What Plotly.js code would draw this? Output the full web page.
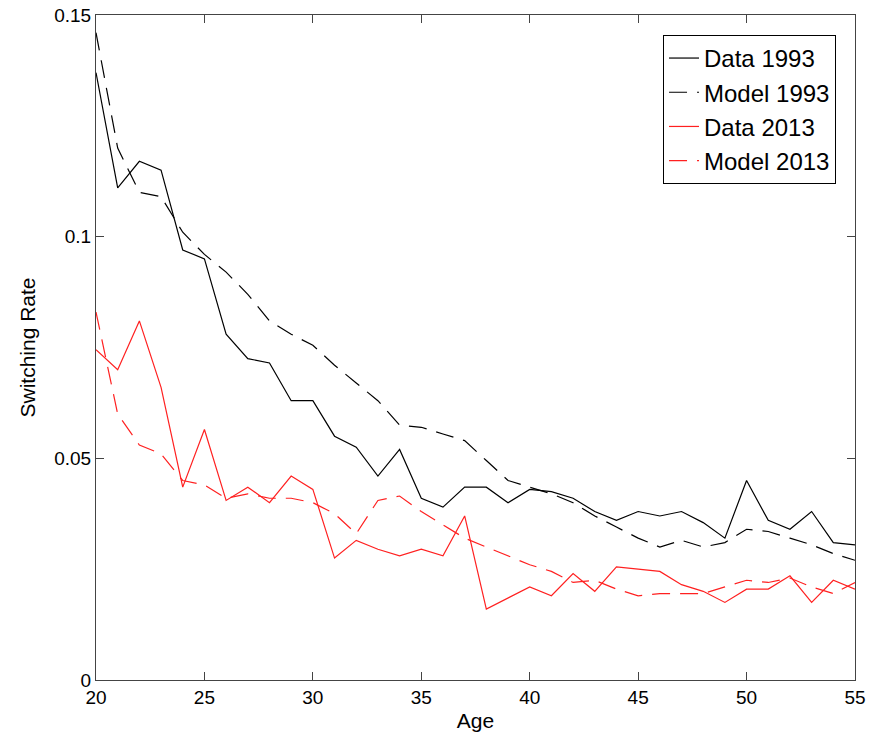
<!DOCTYPE html>
<html>
<head>
<meta charset="utf-8">
<script src="https://cdn.plot.ly/plotly-3.0.1.min.js"></script>
<style>body{margin:0;background:#fff}</style>
</head>
<body>
<div id="chart" style="width:870px;height:742px"></div>
<script>
const ages = []
for (let a = 20; a <= 55; a++) ages.push(a)

const data1993 = [0.137, 0.111, 0.117, 0.115, 0.097, 0.095, 0.078, 0.0725, 0.0715, 0.063, 0.063, 0.055, 0.0525, 0.046, 0.052, 0.041, 0.039, 0.0435, 0.0435, 0.040, 0.043, 0.0425, 0.041, 0.038, 0.036, 0.038, 0.037, 0.038, 0.0355, 0.032, 0.045, 0.036, 0.034, 0.038, 0.031, 0.0305]
const model1993 = [0.146, 0.120, 0.110, 0.109, 0.101, 0.096, 0.092, 0.087, 0.081, 0.078, 0.0755, 0.071, 0.067, 0.063, 0.0575, 0.057, 0.0555, 0.054, 0.0495, 0.045, 0.0435, 0.042, 0.040, 0.037, 0.0345, 0.032, 0.030, 0.0315, 0.030, 0.031, 0.034, 0.0335, 0.032, 0.0305, 0.0285, 0.027]
const data2013 = [0.0745, 0.070, 0.081, 0.066, 0.0435, 0.0565, 0.0405, 0.0435, 0.040, 0.046, 0.043, 0.0275, 0.0315, 0.0295, 0.028, 0.0295, 0.028, 0.037, 0.016, 0.0185, 0.021, 0.019, 0.024, 0.020, 0.0255, 0.025, 0.0245, 0.0215, 0.020, 0.0175, 0.0205, 0.0205, 0.0235, 0.0175, 0.0225, 0.0205]
const model2013 = [0.083, 0.060, 0.053, 0.051, 0.045, 0.044, 0.041, 0.042, 0.041, 0.041, 0.040, 0.0375, 0.033, 0.0405, 0.0415, 0.038, 0.035, 0.032, 0.030, 0.028, 0.026, 0.0245, 0.022, 0.0225, 0.0205, 0.019, 0.0195, 0.0195, 0.0195, 0.021, 0.0225, 0.022, 0.023, 0.021, 0.0195, 0.022]

const mk = (y, name, color, dash) => ({
    x: ages, y: y, name: name, type: 'scatter', mode: 'lines',
    line: { color: color, width: 1.2, dash: dash }
})
const traces = [
    mk(data1993, 'Data 1993', '#000', 'solid'),
    mk(model1993, 'Model 1993', '#000', '18px,10px'),
    mk(data2013, 'Data 2013', '#ff2020', 'solid'),
    mk(model2013, 'Model 2013', '#ff2020', '18px,10px')
]

const ax = {
    showgrid: false, zeroline: false, showline: true, mirror: 'ticks',
    linecolor: '#444', linewidth: 1, ticks: 'inside', ticklen: 8, tickcolor: '#444',
    tickfont: { size: 19, color: '#000' }
}
const layout = {
    width: 870, height: 742,
    margin: { l: 96, r: 15, t: 15, b: 62 },
    font: { family: 'Liberation Sans, Arial, sans-serif', color: '#000' },
    paper_bgcolor: '#fff', plot_bgcolor: '#fff',
    xaxis: Object.assign({}, ax, { range: [20, 55], dtick: 5, title: { text: 'Age', font: { size: 21 }, standoff: 6 } }),
    yaxis: Object.assign({}, ax, { range: [0, 0.15], tickvals: [0, 0.05, 0.1, 0.15], ticktext: ['0', '0.05', '0.1', '0.15'], title: { text: 'Switching Rate', font: { size: 21 }, standoff: 12 } }),
    showlegend: true,
    legend: {
        x: 0.975, xanchor: 'right', y: 0.97, yanchor: 'top',
        bordercolor: '#000', borderwidth: 1, bgcolor: '#fff',
        font: { size: 24 }, tracegroupgap: 0
    }
}
Plotly.newPlot('chart', traces, layout, { staticPlot: true })
</script>
</body>
</html>
